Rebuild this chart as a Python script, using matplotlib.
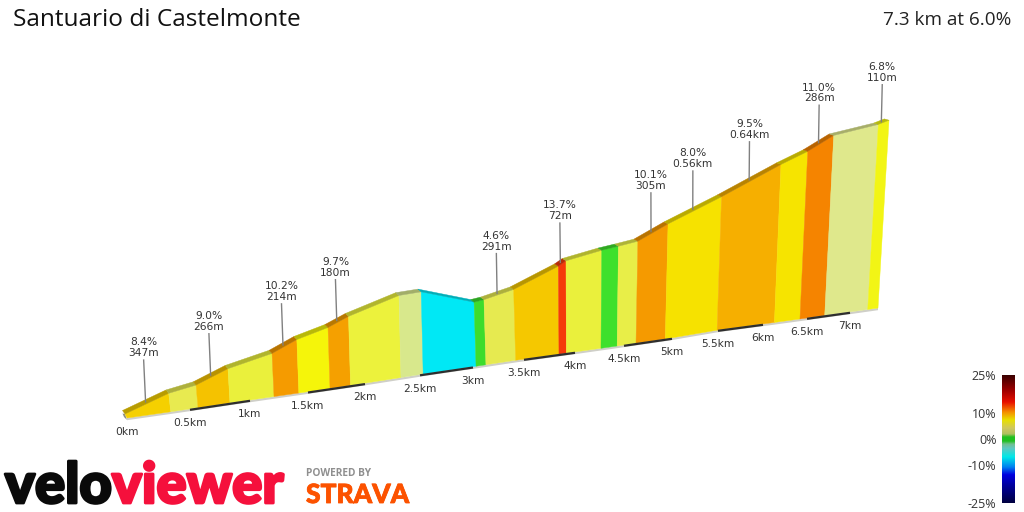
import numpy as np
import matplotlib
matplotlib.use('Agg')
import matplotlib.pyplot as plt
from matplotlib.colors import LinearSegmentedColormap, to_rgb
from matplotlib.patches import Polygon
import matplotlib.patheffects as pe

# length km, gradient %, colour, show label
segments = [
    (0.347, 8.4, '#f5d000', True),
    (0.220, 4.0, '#e8ea50', False),
    (0.266, 9.0, '#f5c200', True),
    (0.374, 5.0, '#eaf03c', False),
    (0.214, 10.2, '#f59b00', True),
    (0.272, 6.0, '#f5f50a', False),
    (0.180, 9.7, '#f5a000', True),
    (0.454, 6.4, '#ecf23c', False),
    (0.203, 0.5, '#d8e88c', False),
    (0.500, -7.4, '#00e8f5', False),
    (0.097, 2.5, '#3ddc2c', False),
    (0.291, 4.6, '#e6ea50', True),
    (0.425, 9.2, '#f5c800', False),
    (0.072, 13.7, '#f53a0a', True),
    (0.350, 4.0, '#eaf03c', False),
    (0.165, 2.8, '#3ee02c', False),
    (0.195, 3.1, '#e8ee48', False),
    (0.305, 10.1, '#f59a00', True),
    (0.560, 8.0, '#f6e200', True),
    (0.640, 9.5, '#f6af00', True),
    (0.290, 8.5, '#f6e400', False),
    (0.286, 11.0, '#f58400', True),
    (0.484, 3.3, '#dfe88c', False),
    (0.110, 6.8, '#f2f515', True),
]
lengths = np.array([s[0] for s in segments])
grades = np.array([s[1] for s in segments])
dist = np.r_[0, np.cumsum(lengths)]
elev = np.r_[0, np.cumsum(lengths * grades * 10)]

# where the road base sits on the picture, per km
base_km = np.r_[np.arange(0, 7.5, 0.5), 7.3]
base_km = np.sort(base_km)
base_px = [127, 190, 250, 308, 365, 420, 473, 524, 575, 624, 672, 718, 763, 807, 850, 878]
base_py = [418, 409, 400, 391.7, 383.3, 374.5, 366.7, 359, 352, 345, 338, 330, 324, 318, 312, 308]


def project(d, e):
    bx = np.interp(d, base_km, base_px)
    by = np.interp(d, base_km, base_py)
    h = 4 + e * 0.5 / (1 + 0.025 * d)
    lean = np.interp(d, [0, 3.5, 4, 5, 6, 6.7, 7.3], [-2, -2, 0, 3, 6, 9, 11])
    return bx, by, bx + lean, by - h


def depth(d):
    return -2.5 - 0.3 * d, -3.5 + 0.3 * d


fig = plt.figure(figsize=(10.24, 5.12), dpi=100, facecolor='w')
ax = fig.add_axes([0, 0, 1, 1])
ax.set_xlim(0, 1024)
ax.set_ylim(512, 0)
ax.axis('off')

bx, by, tx, ty = project(dist, elev)
ox, oy = depth(dist)

# road base with km stripes
ax.add_patch(Polygon(np.c_[np.r_[bx, bx[::-1]], np.r_[by, by[::-1] + 2.2]], fc='#cfcfc8', ec='none', zorder=1))
for km in np.arange(0.5, 7, 1.0):
    d = np.array([km, km + 0.5])
    sx, sy, _, _ = project(d, 0 * d)
    ax.plot(sx, sy + 0.8, color='#2e2e2e', lw=1.6, solid_capstyle='butt', zorder=3)

# grey cap at the start
ax.add_patch(Polygon([(bx[0], by[0] + 2), (tx[0], ty[0]), (tx[0] + ox[0], ty[0] + oy[0] + 3), (bx[0] - 3, by[0] - 1)],
                     fc='#8f8f80', ec='none', zorder=2))

for i, seg in enumerate(segments):
    col = seg[2]
    ax.add_patch(Polygon([(bx[i], by[i]), (bx[i + 1], by[i + 1]), (tx[i + 1], ty[i + 1]), (tx[i], ty[i])],
                         fc=col, ec=col, lw=0.3, zorder=2))
    dark = tuple(c * 0.75 for c in to_rgb(col))
    ax.add_patch(Polygon([(tx[i], ty[i]), (tx[i + 1], ty[i + 1]),
                          (tx[i + 1] + ox[i + 1], ty[i + 1] + oy[i + 1]), (tx[i] + ox[i], ty[i] + oy[i])],
                         fc=dark, ec=dark, lw=0.3, zorder=2))

# gradient callouts
for i, seg in enumerate(segments):
    if not seg[3]:
        continue
    mid = (dist[i] + dist[i + 1]) / 2
    x0 = (tx[i] + tx[i + 1]) / 2 + (ox[i] + ox[i + 1]) / 4
    y0 = (ty[i] + ty[i + 1]) / 2 + (oy[i] + oy[i + 1]) / 4
    x1 = x0 - 2 + 0.4 * mid
    y1 = y0 - (42 - 0.7 * mid)
    ax.plot([x0, x1], [y0, y1], color='#808080', lw=1, zorder=4)
    if seg[0] < 0.5:
        dtxt = '%dm' % round(seg[0] * 1000)
    else:
        dtxt = '%.2fkm' % seg[0]
    ax.text(x1, y1 - 2, '%.1f%%\n%s' % (seg[1], dtxt), ha='center', va='bottom', fontsize=7.7,
            color='#333333', linespacing=1.08, zorder=5)

# km labels
for km in np.arange(0, 7.5, 0.5):
    sx, sy, _, _ = project(km, 0)
    ax.text(sx, sy + 14, '%gkm' % km, ha='center', va='center', fontsize=7.7, color='#333333')

ax.text(13, 20.5, 'Santuario di Castelmonte', fontsize=17.6, ha='left', va='center', color='#111111', family='Open Sans')
ax.text(1011, 20, '7.3 km at 6.0%', fontsize=13.6, ha='right', va='center', color='#222222', family='Open Sans')

# grade colour bar
cb_colors = [(-25, '#000040'), (-18, '#0000a0'), (-14, '#0000e0'), (-11, '#0080f0'), (-7, '#00e8e8'),
             (-3.6, '#60c8c0'), (-2, '#70c090'), (-0.8, '#20c020'), (0.8, '#20c020'), (2, '#b0c060'),
             (4.3, '#d0c860'), (7.5, '#e8e000'), (10.5, '#f59000'), (14.5, '#e81000'), (19, '#a00000'), (25, '#3a0000')]
cmap = LinearSegmentedColormap.from_list('grade', [((v + 25) / 50, c) for v, c in cb_colors])
cax = fig.add_axes([1002 / 1024, 1 - 503 / 512, 13 / 1024, 128 / 512])
cax.imshow(np.linspace(25, -25, 256).reshape(-1, 1), cmap=cmap, vmin=-25, vmax=25, aspect='auto', extent=[0, 1, -25, 25])
cax.set_xticks([])
cax.set_yticks([-25, -10, 0, 10, 25])
cax.set_yticklabels(['-25%', '-10%', '0%', '10%', '25%'], fontsize=9, color='#333333', family='Open Sans')
cax.tick_params(axis='y', length=0, pad=4)
for sp in cax.spines.values():
    sp.set_visible(False)

# logos
renderer = fig.canvas.get_renderer()
t = ax.text(5, 503, 'velo', fontsize=40.5, family='Lato', weight='black', color='#0a0a0a', ha='left', va='baseline',
            path_effects=[pe.withStroke(linewidth=2, foreground='#0a0a0a')])
bb = t.get_window_extent(renderer)
ax.text(bb.x1, 503, 'viewer', fontsize=40.5, family='Lato', weight='black', color='#f5103c', ha='left', va='baseline',
        path_effects=[pe.withStroke(linewidth=2, foreground='#f5103c')])

ax.text(306, 474, 'POWERED BY', fontsize=7.3, family='Open Sans', weight='bold', color='#8f8f8f', ha='left', va='center')
ax.text(306, 503, 'STRAVA', fontsize=19, family='Lato', weight='black', color='#fc5200', ha='left', va='baseline',
        path_effects=[pe.withStroke(linewidth=0.6, foreground='#fc5200')])

fig.savefig('out.png', dpi=100)
